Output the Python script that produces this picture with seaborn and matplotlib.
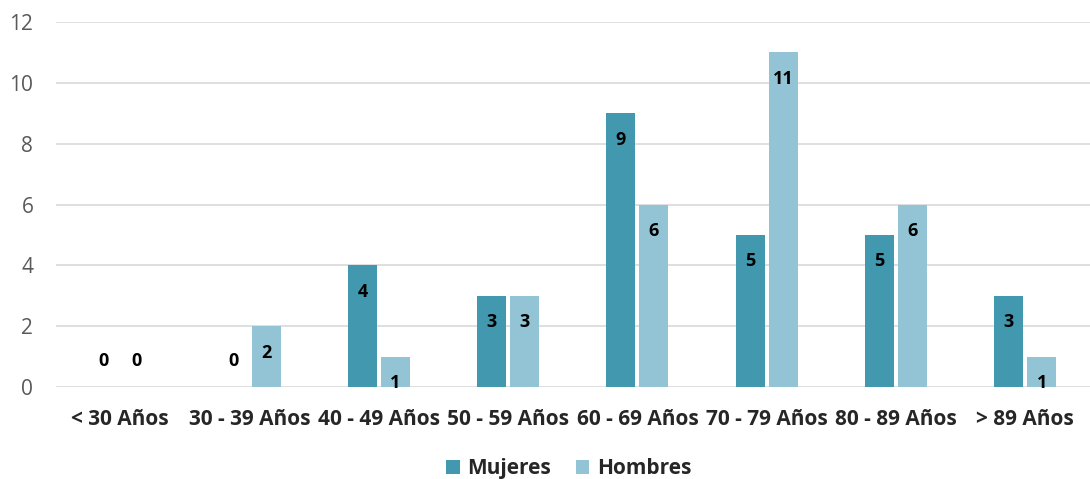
import seaborn as sns
import matplotlib.pyplot as plt
import pandas as pd

# data
age_groups = ['< 30 Años', '30 - 39 Años', '40 - 49 Años', '50 - 59 Años',
              '60 - 69 Años', '70 - 79 Años', '80 - 89 Años', '> 89 Años']
mujeres = [0, 0, 4, 3, 9, 5, 5, 3]
hombres = [0, 2, 1, 3, 6, 11, 6, 1]

df = pd.DataFrame({
    'Edad': age_groups * 2,
    'Sexo': ['Mujeres'] * len(age_groups) + ['Hombres'] * len(age_groups),
    'Casos': mujeres + hombres,
})

sns.set_style("white")
plt.rcParams['font.family'] = ['Open Sans', 'DejaVu Sans']

fig = plt.figure(figsize=(10.9, 4.79), dpi=100)
ax = fig.add_axes([0.051, 0.192, 0.949, 0.762])

palette = {'Mujeres': '#4198AF', 'Hombres': '#92C4D5'}
sns.barplot(data=df, x='Edad', y='Casos', hue='Sexo', order=age_groups,
            hue_order=['Mujeres', 'Hombres'], palette=palette,
            width=0.51, gap=0.12, saturation=1, linewidth=0,
            ax=ax, legend=True, zorder=3)

# value labels: inside the bar top, above the baseline when zero
for cont in ax.containers:
    for bar in cont:
        h = bar.get_height()
        off = 18.5 if h == 0 else -19
        ax.annotate(f'{int(h)}', (bar.get_x() + bar.get_width() / 2, h),
                    xytext=(0, off), textcoords='offset points',
                    ha='center', va='center', fontsize=13,
                    fontweight='bold', color='black', zorder=4)

ax.set_ylim(0, 12)
ax.set_yticks(range(0, 13, 2))
ax.set_xlim(-0.5, len(age_groups) - 0.5)
ax.yaxis.grid(True, color='#D9D9D9', linewidth=1.2, zorder=0)
ax.set_axisbelow(True)
for s in ax.spines.values():
    s.set_visible(False)
ax.tick_params(axis='y', length=0, labelsize=15, labelcolor='#595959', pad=16)
ax.tick_params(axis='x', length=0, labelsize=15, pad=16)
for lbl in ax.get_xticklabels():
    lbl.set_fontweight('bold')
ax.set_xlabel('')
ax.set_ylabel('')

handles, labels = ax.get_legend_handles_labels()
ax.legend(handles, labels, loc='center', bbox_to_anchor=(0.496, -0.224),
          ncol=2, frameon=False, handlelength=0.65, handleheight=0.65,
          handletextpad=0.35, columnspacing=1.2, borderpad=0.2,
          prop={'weight': 'bold', 'size': 15})

plt.savefig('out.png', dpi=100)
